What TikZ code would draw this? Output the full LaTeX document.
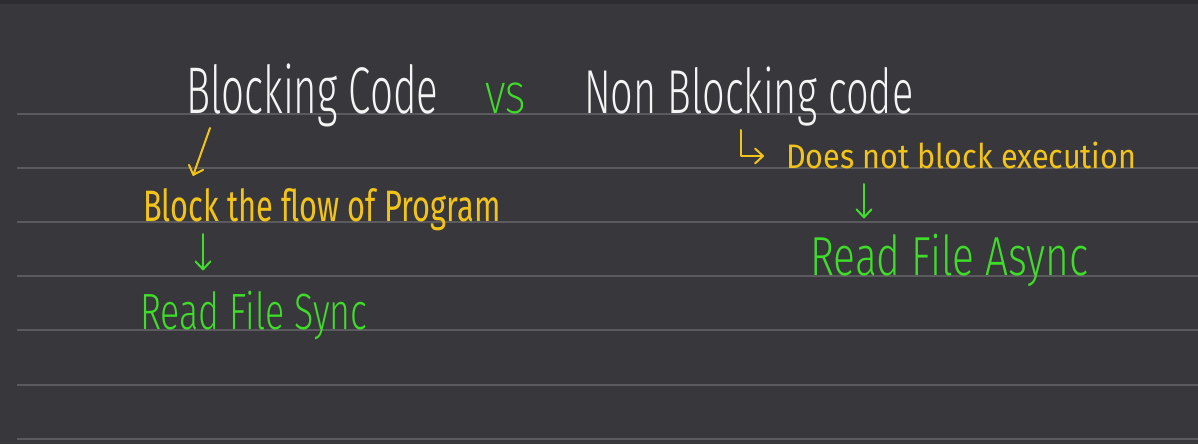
\documentclass[tikz,border=0pt]{standalone}
\usepackage{fontspec}
\usepackage{tikz}
\usetikzlibrary{arrows.meta,positioning,calc}
\newfontfamily\handfont{Fira Sans Light}
\newfontfamily\penfont{Fira Sans}
\definecolor{board}{HTML}{38373B}
\definecolor{boardTop}{HTML}{2D2C30}
\definecolor{rule}{HTML}{5B5A5E}
\definecolor{chalk}{HTML}{F4F4F4}
\definecolor{marker}{HTML}{F2C41A}
\definecolor{lime}{HTML}{3FDC2A}

\begin{document}
\begin{tikzpicture}[x=1pt,y=-1pt,
  hand/.style={inner sep=0pt,anchor=base west},
  head/.style={hand,text=chalk},
  note/.style={hand,text=marker},
  result/.style={hand,text=lime},
  pen/.style={line width=2pt,line cap=round,line join=round,-{Straight Barb[round,length=8pt,width=15pt]}}
]
  % board and ruled lines
  \fill[board] (0,0) rectangle (1198,444);
  \fill[boardTop] (0,0) rectangle (1198,4);
  \useasboundingbox (0,0) rectangle (1198,444);
  \foreach \y in {114,168,222,276,330,385,439}
    \draw[rule,line width=2pt] (17,\y) -- (1198,\y);

  \node[head,font=\handfont\fontsize{66}{70}\selectfont\addfontfeatures{FakeStretch=0.61}] (block) at (186,113) {Blocking Code};
  \node[result,font=\handfont\fontsize{44}{48}\selectfont\addfontfeatures{FakeStretch=0.85}] (vs) at (485,113) {VS};
  \node[head,font=\handfont\fontsize{62}{66}\selectfont\addfontfeatures{FakeStretch=0.64}] (nonblock) at (584,113) {Non Blocking code};

  \node[note,font=\penfont\fontsize{44}{48}\selectfont\addfontfeatures{FakeStretch=0.7}] (flow) at (143,221) {Block the flow of Program};
  \node[result,font=\handfont\fontsize{51}{55}\selectfont\addfontfeatures{FakeStretch=0.7}] (sync) at (140,329) {Read File Sync};

  \node[note,font=\penfont\fontsize{34}{38}\selectfont\addfontfeatures{FakeStretch=0.9}] (noblock) at (786,168) {Does not block execution};
  \node[result,font=\handfont\fontsize{55}{59}\selectfont\addfontfeatures{FakeStretch=0.74}] (async) at (810,275) {Read File Async};

  \draw[pen,marker] ($(block.base west)+(24,15)$) -- ($(flow.north west)+(50,-12)$);
  \draw[pen,lime] ($(flow.base west)+(60,13)$) -- ($(sync.north west)+(63,-20)$);
  \draw[pen,marker] ($(nonblock.base west)+(157,17)$) |- ($(noblock.base west)+(-22,-12)$);
  \draw[pen,lime] ($(noblock.base west)+(78,16)$) -- ($(async.north west)+(54,-15)$);
\end{tikzpicture}
\end{document}
